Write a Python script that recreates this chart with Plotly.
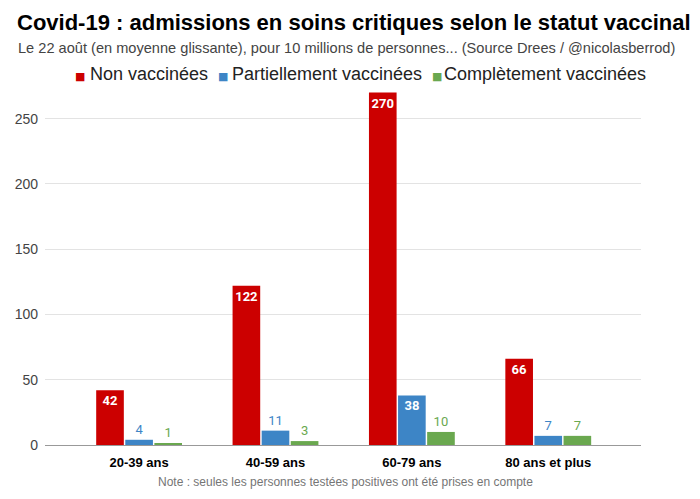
import plotly.graph_objects as go

categories = ["20-39 ans", "40-59 ans", "60-79 ans", "80 ans et plus"]
non_vacc = [42, 122, 270, 66]
part_vacc = [4, 11, 38, 7]
comp_vacc = [1, 3, 10, 7]
series_names = ["Non vaccinées", "Partiellement vaccinées", "Complètement vaccinées"]
colors = ["#cc0000", "#3d85c6", "#6aa84f"]
y_ticks = [0, 50, 100, 150, 200, 250]

FONT = "Liberation Sans, Arial, sans-serif"
LABEL_FONT = "Roboto, Liberation Sans, sans-serif"

# plot area in pixels (for placing annotations in paper coords)
L, R, T, B = 45, 641, 90, 445
def px(x):
    return (x - L) / (R - L)
def py(y):
    return (B - y) / (B - T)

fig = go.Figure()
for name, vals, col in zip(series_names, [non_vacc, part_vacc, comp_vacc], colors):
    inside = [v >= 20 for v in vals]
    fig.add_trace(go.Bar(
        x=categories, y=vals, name=name,
        marker=dict(color=col, line=dict(width=0)),
        text=[("<b>%d</b>" % v) if ins else str(v) for v, ins in zip(vals, inside)],
        textposition=["inside" if ins else "outside" for ins in inside],
        insidetextanchor="end",
        textangle=0,
        insidetextfont=dict(color="white", size=13, family=LABEL_FONT),
        outsidetextfont=dict(color=col, size=14, family=LABEL_FONT),
        cliponaxis=False,
        showlegend=False,
    ))

# legend drawn as text annotations (square + label)
legend_sq_x = [73, 216, 430]
legend_txt_x = [88, 230, 442]
legend_y = 74

annotations = [
    dict(
        text="Le 22 août (en moyenne glissante), pour 10 millions de personnes... (Source Drees / @nicolasberrod)",
        xref="paper", yref="paper", x=px(16), y=py(48),
        xanchor="left", yanchor="middle", showarrow=False,
        font=dict(size=14.6, color="#444", family=FONT),
    ),
    dict(
        text="Note : seules les personnes testées positives ont été prises en compte",
        xref="paper", yref="paper", x=px(345), y=py(482),
        xanchor="center", yanchor="middle", showarrow=False,
        font=dict(size=12, color="#757575", family=FONT),
    ),
]
for name, col, sx, tx in zip(series_names, colors, legend_sq_x, legend_txt_x):
    annotations.append(dict(
        text="■", xref="paper", yref="paper", x=px(sx), y=py(legend_y + 2),
        xanchor="left", yanchor="middle", showarrow=False,
        font=dict(size=11, color=col, family="DejaVu Sans"),
    ))
    annotations.append(dict(
        text=name, xref="paper", yref="paper", x=px(tx), y=py(legend_y),
        xanchor="left", yanchor="middle", showarrow=False,
        font=dict(size=18, color="#222", family=FONT),
    ))

fig.update_layout(
    width=700, height=499,
    margin=dict(l=L, r=700 - R, t=T, b=499 - B, autoexpand=False),
    paper_bgcolor="white", plot_bgcolor="white",
    barmode="group", bargap=0.36, bargroupgap=0.05,
    uniformtext=dict(minsize=13, mode="show"),
    font=dict(family=FONT, color="#444"),
    title=dict(
        text="<b>Covid-19 : admissions en soins critiques selon le statut vaccinal</b>",
        x=17 / 700, xanchor="left", xref="container",
        y=1 - 22 / 499, yanchor="middle", yref="container",
        font=dict(size=22, color="#000", family=FONT),
    ),
    showlegend=False,
    xaxis=dict(
        range=[-0.69, 3.68],
        tickfont=dict(size=13, color="#000", family=FONT),
        showgrid=False, showline=False, ticks="",
        tickvals=categories, ticktext=["<b>%s</b>" % c for c in categories],
        ticklabelstandoff=8,
        fixedrange=True,
    ),
    yaxis=dict(
        range=[0, 272], tickvals=y_ticks,
        tickfont=dict(size=14, color="#444", family=FONT),
        gridcolor="#e3e3e3", gridwidth=1,
        zeroline=True, zerolinecolor="#999", zerolinewidth=1,
        ticks="", ticklabelstandoff=6,
    ),
    annotations=annotations,
)

fig.write_html("out.html", config={"displayModeBar": False},
               post_script="document.body.style.margin='0';")
